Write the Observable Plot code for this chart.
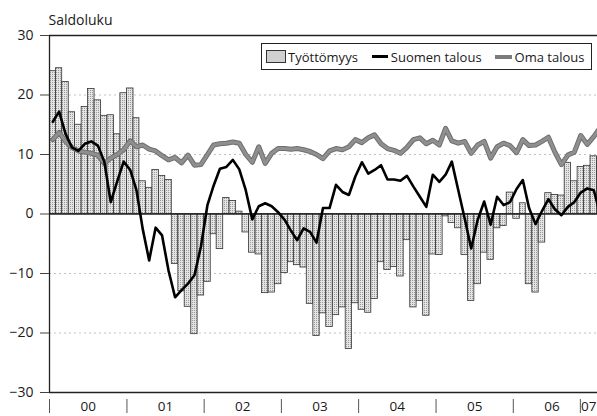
<!DOCTYPE html>
<html><head><meta charset="utf-8">
<script src="https://cdn.jsdelivr.net/npm/d3@7"></script>
<script src="https://cdn.jsdelivr.net/npm/@observablehq/plot@0.6"></script>
<style>
html,body{margin:0;padding:0;background:#fff;overflow:hidden;}
#wrap{position:relative;width:597px;height:416px;font-family:"Open Sans",sans-serif;color:#1a1a1a;}
#legend{position:absolute;left:261px;top:43px;width:329px;height:25px;border:1.5px solid #222;background:#fff;display:flex;align-items:center;font-size:13px;white-space:nowrap;}
.sw-bar{display:inline-block;width:18px;height:11px;border:1px solid #333;margin-left:4px;margin-right:2px;background-color:#e2e2e2;background-image:radial-gradient(#8f8f8f 0.55px, transparent 0.75px);background-size:2px 2px;}
.sw-line{display:inline-block;width:16px;height:2.6px;background:#000;margin-left:14px;margin-right:3px;}
.sw-gray{display:inline-block;width:17px;height:4px;background:#7c7c7c;margin-left:13px;margin-right:3px;}
</style></head><body>
<svg width="0" height="0" style="position:absolute"><defs>
<pattern id="dots" width="2" height="2" patternUnits="userSpaceOnUse"><rect width="2" height="2" fill="#e4e4e4"/><rect width="1" height="1" fill="#9a9a9a"/></pattern>
<pattern id="grayline" width="2" height="2" patternUnits="userSpaceOnUse"><rect width="2" height="2" fill="#b0b0b0"/><rect width="1" height="1" fill="#6e6e6e"/><rect x="1" y="1" width="1" height="1" fill="#6e6e6e"/></pattern>
</defs></svg>
<div id="wrap">
  <div id="chart"></div>
  <div id="legend">
    <span class="sw-bar"></span><span>Työttömyys</span>
    <span class="sw-line"></span><span>Suomen talous</span>
    <span class="sw-gray"></span><span>Oma talous</span>
  </div>
</div>
<script>
const yearLabels = ["00","01","02","03","04","05","06","07"];
// axis separator positions as drawn in the picture (the last one sits before "07")
const separatorDates = ["2000-01-01","2001-01-01","2002-01-01","2003-01-01","2004-01-01","2005-01-01","2006-01-01","2006-11-14"];
const yTicks = [-30,-20,-10,0,10,20,30];
const gridTicks = [-20,-10,10,20];
const yTitle = "Saldoluku";

// Työttömyys (bars), monthly Jan 2000 – Feb 2007
const tyottomyys = [
  24.0, 24.5, 22.2, 17.1, 15.0, 18.0, 21.0, 19.1, 16.5, 16.6, 13.4, 20.3,
  21.1, 16.1, 5.5, 4.4, 7.4, 6.4, 5.7, -8.4, -13.0, -15.6, -20.2, -13.7,
  -11.4, -3.4, -5.9, 2.7, 2.2, 0.4, -3.1, -6.5, -6.8, -13.3, -13.2, -11.8,
  -9.9, -8.1, -8.6, -9.0, -15.1, -20.5, -16.7, -19.0, -17.0, -15.7, -22.7, -15.0,
  -16.1, -16.6, -14.3, -8.1, -9.4, -8.9, -10.5, -4.4, -15.7, -14.6, -17.1, -6.8,
  -6.9, -0.4, -1.5, -2.4, -6.9, -14.6, -11.8, -6.5, -7.7, -2.4, -2.0, 3.6,
  -0.8, 1.8, -11.8, -13.2, -4.8, 3.5, 3.2, 3.1, 8.6, 5.5, 7.9, 8.1,
  9.7, 9.5
];
// Suomen talous (black line)
const suomenTalous = [
  15.5, 17.2, 13.5, 11.2, 10.6, 11.8, 12.2, 11.5, 8.8, 2.0, 5.5, 8.8,
  7.4, 4.0, -2.5, -7.8, -2.3, -3.6, -9.5, -14.0, -12.8, -11.7, -10.3, -5.5,
  1.5, 4.8, 7.6, 7.9, 9.1, 7.5, 4.0, -0.9, 1.3, 1.8, 1.3, 0.3,
  -1.0, -2.8, -4.4, -2.4, -3.0, -4.8, 1.0, 1.0, 4.9, 3.7, 3.2, 6.3,
  8.7, 6.8, 7.4, 8.2, 5.8, 5.8, 5.6, 6.4, 4.6, 2.9, 1.2, 6.6,
  5.4, 6.6, 8.8, 4.0, -0.8, -5.8, -1.0, 2.1, -1.8, 2.9, 1.5, 2.0,
  4.2, 5.7, 1.0, -1.7, 0.5, 2.5, 0.8, -0.2, 1.2, 2.0, 3.6, 4.3,
  4.0, 0.0
];
// Oma talous (grey line)
const omaTalous = [
  12.5, 13.7, 12.2, 11.2, 10.6, 10.4, 10.2, 9.9, 8.5, 9.4, 10.0, 10.8,
  12.3, 11.3, 11.6, 10.9, 10.6, 9.8, 9.1, 9.5, 8.6, 9.9, 8.2, 8.3,
  10.0, 11.6, 11.8, 11.9, 12.1, 11.9, 10.0, 8.7, 11.3, 8.5, 10.2, 11.0,
  11.0, 10.9, 11.0, 10.8, 10.5, 10.0, 9.3, 10.6, 11.0, 10.8, 11.3, 12.5,
  12.0, 12.8, 13.3, 11.8, 11.0, 10.7, 10.2, 11.2, 12.5, 12.8, 11.8, 12.4,
  11.6, 14.4, 12.3, 11.9, 12.2, 10.2, 11.6, 12.2, 9.4, 11.3, 11.9, 11.5,
  10.3, 12.5, 11.5, 11.6, 12.2, 12.9, 10.4, 8.3, 9.9, 10.4, 13.2, 11.7,
  13.0, 14.5
];

const start = new Date(Date.UTC(2000, 0, 1));
const xEnd = new Date(Date.UTC(2007, 1, 3));
const months = d3.utcMonth.range(start, d3.utcMonth.offset(start, tyottomyys.length));
const rows = months.map((m, i) => {
  const m2 = d3.utcMonth.offset(m, 1);
  return {m, m2, mid: new Date((+m + +m2) / 2), t: tyottomyys[i], s: suomenTalous[i], o: omaTalous[i]};
});
const years = yearLabels.map((l, i) => new Date(Date.UTC(2000 + i, 0, 1)));
const separators = separatorDates.map(s => new Date(s + "T00:00:00Z"));
const labelRows = yearLabels.map((l, i) => {
  const yEnd = d3.utcYear.offset(years[i], 1);
  return {l, full: +yEnd <= +xEnd, x: +yEnd <= +xEnd ? new Date((+years[i] + +yEnd) / 2) : xEnd};
});

const chart = Plot.plot({
  width: 597, height: 416,
  marginLeft: 49, marginRight: 0, marginTop: 35, marginBottom: 24,
  style: {fontFamily: "Open Sans, sans-serif", fontSize: "14px", color: "#1a1a1a", background: "transparent", overflow: "hidden"},
  x: {type: "utc", domain: [start, xEnd], axis: null},
  y: {domain: [-30, 30], axis: null},
  marks: [
    Plot.gridY(gridTicks, {stroke: "#999", strokeOpacity: 0.6, strokeDasharray: "2,3"}),
    Plot.rect(rows, {x1: "m", x2: "m2", y1: 0, y2: "t", fill: "url(#dots)", stroke: "#333", strokeWidth: 0.8, clip: true}),
    Plot.ruleY([0], {stroke: "#222", strokeWidth: 1.3}),
    Plot.line(rows, {x: "mid", y: "o", stroke: "#6e6e6e", strokeWidth: 5, clip: true}),
    Plot.line(rows, {x: "mid", y: "o", stroke: "url(#grayline)", strokeWidth: 3, clip: true}),
    Plot.line(rows, {x: "mid", y: "s", stroke: "#000", strokeWidth: 2.6, clip: true}),
    Plot.ruleY([-30, 30], {stroke: "#222", strokeWidth: 1.3}),
    Plot.ruleX([start], {stroke: "#222", strokeWidth: 1.3}),
    Plot.axisY(yTicks, {tickSize: 9, tickPadding: 7, fontSize: 14, stroke: "#444"}),
    Plot.axisX(separators, {tickSize: 14, dy: 7, tickFormat: () => "", stroke: "#555"}),
    Plot.text(labelRows.filter(d => d.full), {x: "x", text: "l", frameAnchor: "bottom", lineAnchor: "top", dy: 9, fontSize: 13.5}),
    Plot.text(labelRows.filter(d => !d.full), {x: "x", text: "l", frameAnchor: "bottom", lineAnchor: "top", textAnchor: "end", dx: -1, dy: 9, fontSize: 13.5}),
    Plot.text([yTitle], {text: d => d, frameAnchor: "top-left", textAnchor: "start", lineAnchor: "top", dx: -1, dy: -20, fontSize: 14})
  ]
});
document.getElementById("chart").appendChild(chart);
</script>
</body></html>
